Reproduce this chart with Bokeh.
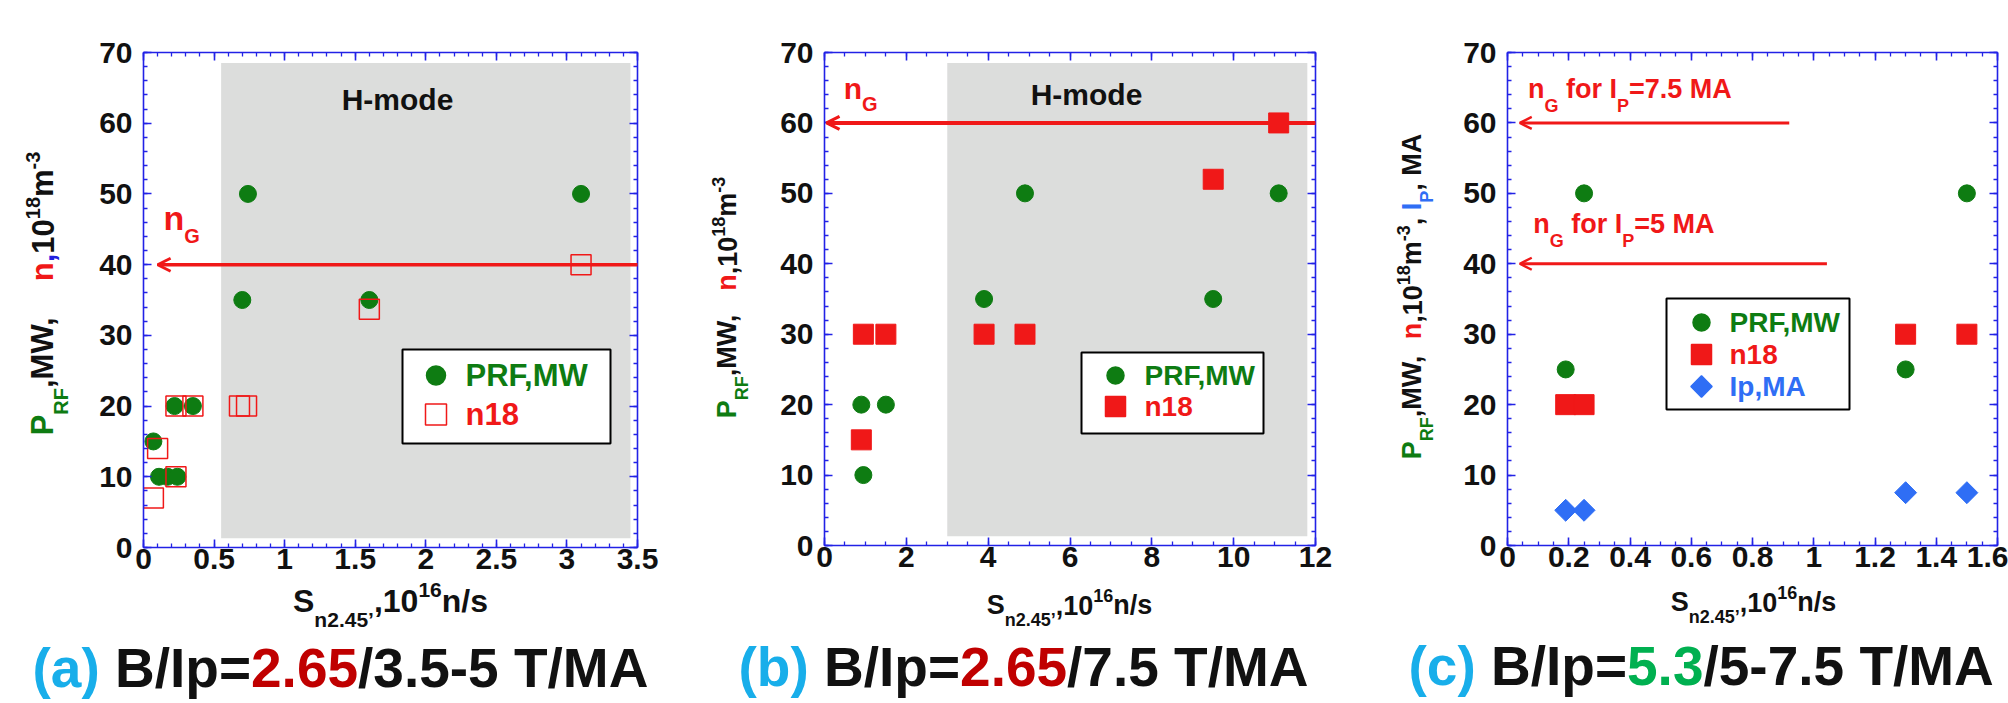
import math
from bokeh.plotting import figure
from bokeh.layouts import row, column
from bokeh.models import (Range1d, LinearAxis, FixedTicker, Label, Arrow, OpenHead,
                          CustomJSTickFormatter, GridBox)
from bokeh.embed import file_html
from bokeh.resources import INLINE

# ---------------- data ----------------
# (a) B/Ip = 2.65/3.5-5 T/MA
a_prf_x = [0.07, 0.11, 0.17, 0.24, 0.22, 0.35, 0.70, 0.74, 1.60, 3.10]
a_prf_y = [15, 10, 10, 10, 20, 20, 35, 50, 35, 50]
a_n18_x = [0.07, 0.10, 0.23, 0.23, 0.35, 0.68, 0.73, 1.60, 3.10]
a_n18_y = [7, 14, 10, 20, 20, 20, 20, 33.7, 40]
a_ng = 40.0
a_ng_x = [3.56, 0.10]
a_hmode = [0.55, 3.45, 1.3, 68.5]   # left, right, bottom, top

# (b) B/Ip = 2.65/7.5 T/MA
b_prf_x = [0.95, 0.90, 1.50, 3.90, 4.90, 9.50, 11.10]
b_prf_y = [10, 20, 20, 35, 50, 35, 50]
b_n18_x = [0.90, 0.95, 1.50, 3.90, 4.90, 9.50, 11.10]
b_n18_y = [15, 30, 30, 30, 30, 52, 60]
b_ng = 60.0
b_ng_x = [12.2, 0.05]
b_hmode = [3.0, 11.8, 1.3, 68.5]

# (c) B/Ip = 5.3/5-7.5 T/MA
c_prf_x = [0.19, 0.25, 1.30, 1.50]
c_prf_y = [25, 50, 25, 50]
c_n18_x = [0.19, 0.25, 1.30, 1.50]
c_n18_y = [20, 20, 30, 30]
c_ip_x = [0.19, 0.25, 1.30, 1.50]
c_ip_y = [5.0, 5.0, 7.5, 7.5]
c_ng = [60.0, 40.0]            # n_G for Ip = 7.5 MA, 5 MA
c_ng_x0 = [0.92, 1.043]
c_ng_x1 = [0.04, 0.04]

a_xticks = [0, 0.5, 1, 1.5, 2, 2.5, 3, 3.5]
a_xlabels = ["0", "0.5", "1", "1.5", "2", "2.5", "3", "3.5"]
b_xticks = [0, 2, 4, 6, 8, 10, 12]
b_xlabels = ["0", "2", "4", "6", "8", "10", "12"]
c_xticks = [0, 0.2, 0.4, 0.6, 0.8, 1, 1.2, 1.4, 1.6]
c_xlabels = ["0", "0.2", "0.4", "0.6", "0.8", "1", "1.2", "1.4", "1.6"]
yticks = [0, 10, 20, 30, 40, 50, 60, 70]
ylabels = ["0", "10", "20", "30", "40", "50", "60", "70"]

# ---------------- style ----------------
FONT = "Liberation Sans"
GREEN = "#0E7C12"
RED = "#F01818"
IPBLUE = "#2F6EF5"
AXIS = "#2222E6"
GRAY = "#DCDDDC"
BLACK = "#111111"
CYAN = "#18AEEA"
DKRED = "#C00000"
LGREEN = "#00B050"
W, H = 2008, 703
MID = 0.3465   # em-box middle above the alphabetic baseline (Arial/Liberation metrics)

AW = {' ': 278, '(': 333, ')': 333, ',': 278, '-': 333, '.': 278, '/': 278, '=': 584,
      'A': 722, 'B': 722, 'F': 611, 'G': 778, 'H': 722, 'I': 278, 'M': 833, 'P': 667,
      'R': 722, 'S': 667, 'T': 611, 'W': 944, 'a': 556, 'b': 611, 'c': 556, 'd': 611,
      'e': 556, 'f': 333, 'm': 889, 'n': 611, 'o': 611, 'p': 611, 'r': 389, 's': 556,
      '\u2019': 278}


def tw(text, size):
    return sum(AW.get(ch, 556) for ch in text) / 1000.0 * size


class Geo:
    """page pixel <-> data conversion for one panel"""
    def __init__(self, fl, ft, fw, fh, xr, yr):
        self.fl, self.ft, self.fw, self.fh, self.xr, self.yr = fl, ft, fw, fh, xr, yr

    def x(self, px):
        return self.xr[0] + (px - self.fl) / self.fw * (self.xr[1] - self.xr[0])

    def y(self, py):
        return self.yr[0] + (self.ft + self.fh - py) / self.fh * (self.yr[1] - self.yr[0])

    def px(self, x):
        return self.fl + (x - self.xr[0]) / (self.xr[1] - self.xr[0]) * self.fw

    def py(self, y):
        return self.ft + self.fh - (y - self.yr[0]) / (self.yr[1] - self.yr[0]) * self.fh


PAGE = Geo(0, 0, W, H, (0, W), (H, 0))   # identity for the full-page text layer


def place_runs(p, g, x0, y0, runs, vertical=False, center=False):
    """x0, y0: start (or centre) of the alphabetic baseline in page pixels"""
    total = sum(tw(t, s) for t, c, s, sh in runs)
    pos = -total / 2 if center else 0.0
    for t, c, s, sh in runs:
        w = tw(t, s)
        if t.strip():
            if vertical:
                px, py = x0 - sh - MID * s, y0 - pos
            else:
                px, py = x0 + pos, y0 - sh - MID * s
            p.add_layout(Label(x=g.x(px), y=g.y(py), text=t, text_color=c, text_font=FONT,
                               text_font_size=f"{s}px", text_font_style="bold",
                               angle=(math.pi / 2 if vertical else 0), text_align="left",
                               text_baseline="middle"))
        pos += w


def make_fig(fig_x0, fig_w, fl, ft, fw, fh, xr, yr, xticks, xminor, xlabels):
    g = Geo(fl, ft, fw, fh, xr, yr)
    p = figure(width=fig_w, height=H, frame_width=fw, frame_height=fh,
               min_border_left=fl - fig_x0, min_border_right=fig_x0 + fig_w - fl - fw,
               min_border_top=ft, min_border_bottom=H - ft - fh,
               x_range=Range1d(*xr), y_range=Range1d(*yr),
               x_axis_location=None, y_axis_location=None,
               output_backend="svg", toolbar_location=None,
               background_fill_color="white", border_fill_color="white",
               outline_line_color=None)
    p.grid.visible = False
    yminor = [v * 2 for v in range(36)]
    for side in ["below", "above", "left", "right"]:
        horiz = side in ("below", "above")
        ticks = xticks if horiz else yticks
        labels = xlabels if horiz else ylabels
        ax = LinearAxis(ticker=FixedTicker(ticks=ticks, minor_ticks=(xminor if horiz else yminor)))
        ax.axis_line_color = AXIS
        ax.axis_line_width = 1.6
        ax.major_tick_line_color = AXIS
        ax.major_tick_line_width = 1.6
        ax.major_tick_in = 8
        ax.major_tick_out = 0
        ax.minor_tick_line_color = AXIS
        ax.minor_tick_line_width = 1.3
        ax.minor_tick_in = 4
        ax.minor_tick_out = 0
        if side in ("below", "left"):
            ax.major_label_overrides = {float(t): l for t, l in zip(ticks, labels)}
            ax.major_label_text_font = FONT
            ax.major_label_text_font_style = "bold"
            ax.major_label_text_font_size = "30px"
            ax.major_label_text_color = BLACK
            ax.major_label_standoff = 11 if side == "left" else 1
        else:
            ax.formatter = CustomJSTickFormatter(code="return ''")
            ax.major_label_standoff = 0
            ax.major_label_text_font_size = "1px"
            ax.major_label_text_color = None
        p.add_layout(ax, side)
    return p, g


def legend_box(p, g, box, items, mx, tx, fsize):
    l, t, r, b = box
    p.quad(left=[g.x(l)], right=[g.x(r)], top=[g.y(t)], bottom=[g.y(b)],
           fill_color="white", line_color="black", line_width=2)
    for (yy, marker, msize, fill, line, text, tcol, ang) in items:
        p.scatter([g.x(mx)], [g.y(yy)], marker=marker, size=msize, fill_color=fill,
                  line_color=line, line_width=1.5, angle=ang)
        p.add_layout(Label(x=g.x(tx), y=g.y(yy), text=text, text_color=tcol, text_font=FONT,
                           text_font_size=f"{fsize}px", text_font_style="bold",
                           text_align="left", text_baseline="middle"))


def ng_arrow(p, y, x0, x1, lw, head):
    p.add_layout(Arrow(end=OpenHead(size=head, line_color=RED, line_width=lw * 0.8),
                       x_start=x0, y_start=y, x_end=x1, y_end=y,
                       line_color=RED, line_width=lw))


# full-page transparent layer for the texts that sit outside the plot frames
ov = figure(width=W, height=H, x_range=Range1d(0, W), y_range=Range1d(H, 0),
            min_border=0, min_border_left=0, min_border_right=0, min_border_top=0,
            min_border_bottom=0, x_axis_location=None, y_axis_location=None,
            output_backend="svg", toolbar_location=None,
            background_fill_color=None, border_fill_color=None, outline_line_color=None)
ov.grid.visible = False

# ================= panel (a) =================
pa, ga = make_fig(0, 690, 143, 46, 494, 495, (0, 3.5), (0, 70), a_xticks,
                  [i * 0.1 for i in range(36)], a_xlabels)
pa.quad(left=[a_hmode[0]], right=[a_hmode[1]], bottom=[a_hmode[2]], top=[a_hmode[3]],
        fill_color=GRAY, line_color=None)
pa.add_layout(Label(x=ga.x(397), y=ga.y(93), text="H-mode", text_color=BLACK, text_font=FONT,
                    text_font_size="30px", text_font_style="bold", text_align="center",
                    text_baseline="middle"))
legend_box(pa, ga, (402, 343, 610, 437),
           [(369, "circle", 19, GREEN, GREEN, "PRF,MW", GREEN, 0),
            (408, "square", 21, None, RED, "n18", RED, 0)], 435.5, 465, 31)
pa.scatter(a_prf_x, a_prf_y, marker="circle", size=17, fill_color=GREEN, line_color=GREEN)
pa.scatter(a_n18_x, a_n18_y, marker="square", size=20, fill_color=None, line_color=RED,
           line_width=1.5)
ng_arrow(pa, a_ng, a_ng_x[0], a_ng_x[1], 3.5, 13)
place_runs(pa, ga, ga.px(0.142), ga.py(44.9), [("n", RED, 34, 0), ("G", RED, 20, -13)])
place_runs(ov, PAGE, 53, 293,
           [("P", GREEN, 31, 0), ("RF", GREEN, 20, -14), (",MW,", BLACK, 31, 0),
            ("    ", BLACK, 31, 0), ("n", RED, 31, 0), (",", "#2020E0", 31, 0),
            ("10", BLACK, 31, 0), ("18", BLACK, 20, 14), ("m", BLACK, 31, 0),
            ("-3", BLACK, 20, 14)], vertical=True, center=True)
place_runs(ov, PAGE, 390, 612,
           [("S", BLACK, 32, 0), ("n2.45\u2019", BLACK, 21, -14), (",10", BLACK, 32, 0),
            ("16", BLACK, 21, 15), ("n/s", BLACK, 32, 0)], center=True)
place_runs(ov, PAGE, 32, 687,
           [("(a)", CYAN, 55, 0), (" ", BLACK, 55, 0), ("B/Ip=", BLACK, 55, 0),
            ("2.65", DKRED, 55, 0), ("/3.5-5 T/MA", BLACK, 55, 0)])

# ================= panel (b) =================
pb, gb = make_fig(690, 670, 824, 52, 491, 493, (0, 12), (0, 70), b_xticks,
                  [i * 0.5 for i in range(25)], b_xlabels)
pb.quad(left=[b_hmode[0]], right=[b_hmode[1]], bottom=[b_hmode[2]], top=[b_hmode[3]],
        fill_color=GRAY, line_color=None)
pb.add_layout(Label(x=gb.x(1086), y=gb.y(94), text="H-mode", text_color=BLACK, text_font=FONT,
                    text_font_size="30px", text_font_style="bold", text_align="center",
                    text_baseline="middle"))
legend_box(pb, gb, (1081, 352, 1263, 433),
           [(375, "circle", 17, GREEN, GREEN, "PRF,MW", GREEN, 0),
            (406, "square", 20, RED, RED, "n18", RED, 0)], 1115, 1144, 28)
pb.scatter(b_prf_x, b_prf_y, marker="circle", size=17, fill_color=GREEN, line_color=GREEN)
pb.scatter(b_n18_x, b_n18_y, marker="square", size=20, fill_color=RED, line_color=RED)
ng_arrow(pb, b_ng, b_ng_x[0], b_ng_x[1], 4, 13)
place_runs(pb, gb, gb.px(0.47), gb.py(63.4), [("n", RED, 30, 0), ("G", RED, 20, -12)])
place_runs(ov, PAGE, 736, 297,
           [("P", GREEN, 27, 0), ("RF", GREEN, 18, -12), (",MW,", BLACK, 27, 0),
            ("   ", BLACK, 27, 0), ("n", RED, 27, 0), (",", BLACK, 27, 0),
            ("10", BLACK, 27, 0), ("18", BLACK, 18, 12), ("m", BLACK, 27, 0),
            ("-3", BLACK, 18, 12)], vertical=True, center=True)
place_runs(ov, PAGE, 1069, 614,
           [("S", BLACK, 27, 0), ("n2.45\u2019", BLACK, 18, -12), (",10", BLACK, 27, 0),
            ("16", BLACK, 18, 13), ("n/s", BLACK, 27, 0)], center=True)
place_runs(ov, PAGE, 738, 686,
           [("(b)", CYAN, 55, 0), (" ", BLACK, 55, 0), ("B/Ip=", BLACK, 55, 0),
            ("2.65", DKRED, 55, 0), ("/7.5 T/MA", BLACK, 55, 0)])

# ================= panel (c) =================
pc, gc = make_fig(1360, 648, 1507, 49, 490, 493, (0, 1.6), (0, 70), c_xticks,
                  [i * 0.05 for i in range(33)], c_xlabels)
legend_box(pc, gc, (1666, 295, 1849, 406),
           [(319, "circle", 17, GREEN, GREEN, "PRF,MW", GREEN, 0),
            (351, "square", 20, RED, RED, "n18", RED, 0),
            (383, "square", 15, IPBLUE, IPBLUE, "Ip,MA", IPBLUE, math.pi / 4)], 1701, 1729, 28)
pc.scatter(c_prf_x, c_prf_y, marker="circle", size=17, fill_color=GREEN, line_color=GREEN)
pc.scatter(c_n18_x, c_n18_y, marker="square", size=20, fill_color=RED, line_color=RED)
pc.scatter(c_ip_x, c_ip_y, marker="square", size=15.5, angle=math.pi / 4,
           fill_color=IPBLUE, line_color=IPBLUE)
for yy, x0, x1 in zip(c_ng, c_ng_x0, c_ng_x1):
    ng_arrow(pc, yy, x0, x1, 3, 12)
place_runs(pc, gc, gc.px(0.067), gc.py(63.5),
           [("n", RED, 27, 0), ("G", RED, 18, -14), (" ", RED, 27, 0), ("for I", RED, 27, 0),
            ("P", RED, 18, -14), ("=7.5 MA", RED, 27, 0)])
place_runs(pc, gc, gc.px(0.084), gc.py(44.3),
           [("n", RED, 27, 0), ("G", RED, 18, -14), (" ", RED, 27, 0), ("for I", RED, 27, 0),
            ("P", RED, 18, -14), ("=5 MA", RED, 27, 0)])
place_runs(ov, PAGE, 1421, 296,
           [("P", GREEN, 27, 0), ("RF", GREEN, 18, -12), (",MW,", BLACK, 27, 0),
            ("  ", BLACK, 27, 0), ("n", RED, 27, 0), (",", BLACK, 27, 0),
            ("10", BLACK, 27, 0), ("18", BLACK, 18, 12), ("m", BLACK, 27, 0),
            ("-3", BLACK, 18, 12), (",", BLACK, 27, 0), (" ", BLACK, 27, 0),
            ("I", IPBLUE, 27, 0), ("P", IPBLUE, 18, -12), (",", BLACK, 27, 0),
            (" ", BLACK, 27, 0), ("MA", BLACK, 27, 0)], vertical=True, center=True)
place_runs(ov, PAGE, 1753, 611,
           [("S", BLACK, 27, 0), ("n2.45\u2019", BLACK, 18, -12), (",10", BLACK, 27, 0),
            ("16", BLACK, 18, 13), ("n/s", BLACK, 27, 0)], center=True)
place_runs(ov, PAGE, 1408, 685,
           [("(c)", CYAN, 55, 0), (" ", BLACK, 55, 0), ("B/Ip=", BLACK, 55, 0),
            ("5.3", LGREEN, 55, 0), ("/5-7.5 T/MA", BLACK, 55, 0)])

panels = row(pa, pb, pc, spacing=0)
layer = column(ov, spacing=0)
layout = GridBox(children=[(panels, 0, 0), (layer, 0, 0)], spacing=0)
open("out.html", "w").write(file_html(layout, INLINE))
